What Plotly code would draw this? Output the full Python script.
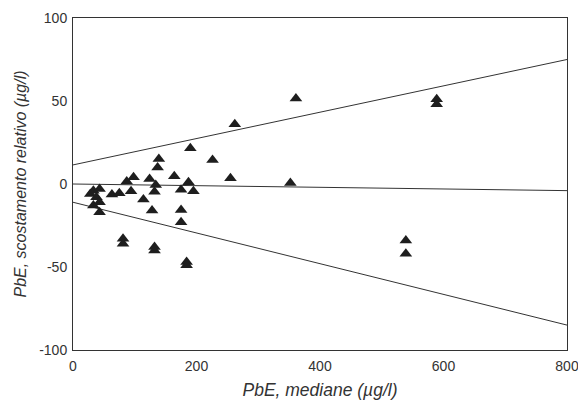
import plotly.graph_objects as go

# scatter data: PbE median (x) vs relative deviation (y)
mediane = [28, 33, 43, 38, 33, 43, 43, 63, 75, 87, 94, 98, 114, 124, 128, 132, 132, 132,
           134, 137, 139, 164, 175, 175, 175, 184, 184, 187, 190, 195, 226, 255, 262,
           352, 361, 589, 589, 539, 539, 81, 81]
scostamento = [-6, -4, -3, -8, -13, -11, -17, -6.4, -5.6, 1.5, -4.4, 4, -9.4, 3, -16, -4.6, -38, -40,
               -0.6, 10, 15, 4.6, -3.4, -15.6, -23, -47, -49, 1, 21.5, -4.4, 14.4, 3.4, 36,
               0.6, 51.5, 51, 48, -34, -42, -33, -36]

# reference lines (endpoints at x = 0 and x = 800)
line_x = [0, 800]
upper_y = [11.5, 75]
middle_y = [0, -4]
lower_y = [-11, -85]

x_ticks = [0, 200, 400, 600, 800]
x_ticktext = ["0", "200", "400", "600", "800"]
y_ticks = [-100, -50, 0, 50, 100]
y_ticktext = ["-100", "-50", "0", "50", "100"]

fig = go.Figure()
for ly in (upper_y, middle_y, lower_y):
    fig.add_trace(go.Scatter(x=line_x, y=ly, mode="lines",
                             line=dict(color="#333333", width=1), hoverinfo="skip"))
fig.add_trace(go.Scatter(x=mediane, y=scostamento, mode="markers",
                         marker=dict(symbol="triangle-up", size=11, color="#1e1e1e")))

font = "Liberation Sans, Arial, sans-serif"
fig.update_layout(
    width=578, height=413,
    margin=dict(l=73, r=11, t=18, b=63),
    paper_bgcolor="white", plot_bgcolor="white",
    showlegend=False,
    font=dict(family=font, size=14, color="#333333"),
)
fig.update_xaxes(range=[-0.01, 800.01], tickvals=x_ticks, ticktext=x_ticktext,
                 showgrid=False, zeroline=False, automargin=False,
                 showline=True, mirror=True, linecolor="#333333", linewidth=1,
                 ticks="", tickfont=dict(size=14), ticklabelstandoff=3,
                 ticklabeloverflow="allow",
                 title=dict(text="<i>PbE, mediane (µg/l)</i>", font=dict(size=17.5), standoff=10))
fig.update_yaxes(range=[-100.01, 100.01], tickvals=y_ticks, ticktext=y_ticktext,
                 showgrid=False, zeroline=False, automargin=False,
                 showline=True, mirror=True, linecolor="#333333", linewidth=1,
                 ticks="", tickfont=dict(size=14), ticklabelstandoff=2,
                 title=dict(text="<i>PbE, scostamento relativo (µg/l)</i>", font=dict(size=16), standoff=8))

fig.write_html("out.html")
